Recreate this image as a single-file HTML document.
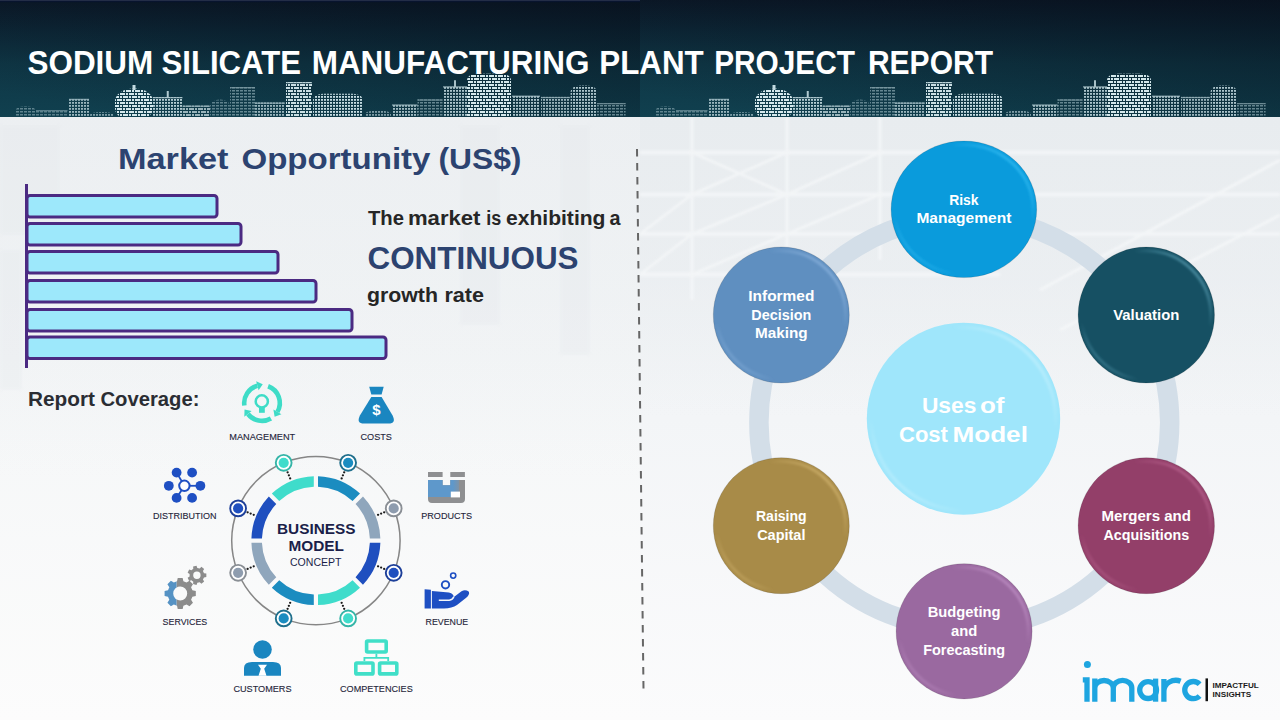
<!DOCTYPE html>
<html><head><meta charset="utf-8">
<style>
html,body{margin:0;padding:0;}
body{width:1280px;height:720px;overflow:hidden;position:relative;background:#f1f3f5;font-family:"Liberation Sans",sans-serif;}
.abs{position:absolute;}
.t{position:absolute;white-space:nowrap;line-height:1;transform-origin:0 0;}
svg text{font-family:"Liberation Sans",sans-serif;}
</style></head>
<body>
<svg class="abs" style="left:0;top:0" width="1280" height="720" viewBox="0 0 1280 720">
<defs>
  <linearGradient id="hg" x1="0" y1="0" x2="0" y2="1">
    <stop offset="0" stop-color="#0c1a2a"/>
    <stop offset="0.25" stop-color="#0d2838"/>
    <stop offset="0.55" stop-color="#0f3746"/>
    <stop offset="1" stop-color="#10404f"/>
  </linearGradient>
  <linearGradient id="bgL" x1="0" y1="0" x2="0" y2="1">
    <stop offset="0" stop-color="#f0f2f4"/>
    <stop offset="0.4" stop-color="#f4f6f7"/>
    <stop offset="1" stop-color="#fcfcfc"/>
  </linearGradient>
  <linearGradient id="bgR" x1="0" y1="0" x2="0" y2="1">
    <stop offset="0" stop-color="#edf0f2"/>
    <stop offset="0.5" stop-color="#f3f5f7"/>
    <stop offset="1" stop-color="#fbfbfc"/>
  </linearGradient>
  <pattern id="pw" x="0" y="0" width="3" height="3" patternUnits="userSpaceOnUse">
    <rect x="0" y="0" width="2" height="1.8" fill="#c6dde3"/>
  </pattern>
  <pattern id="pd" x="0" y="0" width="9" height="9" patternUnits="userSpaceOnUse">
    <rect x="0" y="0" width="5" height="2" fill="#d4e8ec"/><rect x="6" y="0" width="2" height="2" fill="#d4e8ec"/>
    <rect x="0" y="3" width="2" height="2" fill="#d4e8ec"/><rect x="3" y="3" width="5" height="2" fill="#d4e8ec"/>
    <rect x="0" y="6" width="2" height="2" fill="#d4e8ec"/><rect x="3" y="6" width="2" height="2" fill="#d4e8ec"/><rect x="6" y="6" width="3" height="2" fill="#d4e8ec"/>
  </pattern>
  <pattern id="ph" x="0" y="0" width="4" height="3" patternUnits="userSpaceOnUse">
    <rect x="0" y="0" width="3" height="1.5" fill="#9fbcc4"/>
  </pattern>
  <filter id="sh" x="-20%" y="-20%" width="140%" height="140%">
    <feGaussianBlur in="SourceAlpha" stdDeviation="1.2"/>
    <feOffset dx="0" dy="1" result="o"/>
    <feComponentTransfer><feFuncA type="linear" slope="0.35"/></feComponentTransfer>
    <feMerge><feMergeNode/><feMergeNode in="SourceGraphic"/></feMerge>
  </filter>
  <filter id="bl"><feGaussianBlur stdDeviation="1"/></filter>
  <filter id="bl2"><feGaussianBlur stdDeviation="1.5"/></filter>
</defs>
<!-- body background -->
<rect x="0" y="117" width="640" height="603" fill="url(#bgL)"/>
<rect x="640" y="117" width="640" height="603" fill="url(#bgR)"/>
<linearGradient id="tov" x1="0" y1="0" x2="0" y2="1"><stop offset="0" stop-color="#e3e8ec" stop-opacity="0.5"/><stop offset="0.5" stop-color="#e3e8ec" stop-opacity="0.4"/><stop offset="1" stop-color="#e3e8ec" stop-opacity="0"/></linearGradient>
<rect x="640" y="117" width="640" height="300" fill="url(#tov)"/>
<rect x="0" y="117" width="640" height="360" fill="url(#tov)" opacity="0.6"/>
<g fill="#e2e6ea" opacity="0.25" filter="url(#bl2)">
  <rect x="0" y="125" width="60" height="110"/>
  <rect x="0" y="250" width="22" height="140"/>
  <rect x="460" y="125" width="40" height="200"/>
  <rect x="560" y="125" width="30" height="230"/>
</g>
<g stroke="#f6f8f9" fill="none" opacity="0.75" filter="url(#bl)">
  <path d="M640,152.5 H1280 M640,194.5 H1280 M640,234 H1280 M640,274.5 H1000" stroke-width="4"/>
  <path d="M692,117 V300 M787,117 V300 M880,117 V260" stroke-width="3"/>
  <path d="M692,194.5 L787,152.5 M692,152.5 L787,194.5 M692,234 L787,194.5 M692,274.5 L787,234 M787,194.5 L880,152.5 M787,234 L880,194.5 M640,234 L692,194.5 M640,274.5 L692,234" stroke-width="2.5"/>
  <path d="M1040,290 L1280,160 M1060,330 L1280,215" stroke-width="3"/>
</g>
<!-- header -->
<rect x="0" y="0" width="1280" height="117" fill="url(#hg)"/>
<linearGradient id="hov" x1="0" y1="1" x2="1" y2="0"><stop offset="0.1" stop-color="#050b15" stop-opacity="0"/><stop offset="1" stop-color="#050b15" stop-opacity="0.5"/></linearGradient>
<rect x="0" y="0" width="640" height="117" fill="url(#hov)"/>
<rect x="640" y="0" width="640" height="117" fill="url(#hov)"/>
<rect x="0" y="0" width="640" height="1" fill="#232d47"/><rect x="0" y="1" width="640" height="1.2" fill="#08142e"/>
<clipPath id="hc"><rect x="0" y="0" width="1280" height="117"/></clipPath>
<g clip-path="url(#hc)"><g id="sky">
<g opacity="0.55"><rect x="15" y="106" width="21.0" height="15.0" rx="10.5" ry="5.5" fill="url(#ph)"/></g>
<g opacity="0.5"><rect x="36" y="110" width="31.5" height="11.0" fill="url(#ph)"/><rect x="36" y="110" width="31.5" height="1.3" fill="#c3dbe1" opacity="0.8"/></g>
<g opacity="0.75"><rect x="69" y="98.75" width="20.0" height="22.2" fill="url(#pw)"/><rect x="69" y="98.75" width="20.0" height="1.3" fill="#c3dbe1" opacity="0.8"/></g>
<g opacity="0.6"><rect x="90" y="112" width="24.0" height="9.0" rx="12.0" ry="2.5" fill="url(#pw)"/></g>
<g opacity="1.0"><rect x="115" y="88.5" width="38.0" height="32.5" rx="19.0" ry="12.7" fill="url(#pd)"/><rect x="132.5" y="85.0" width="3" height="5" fill="#c3dbe1"/></g>
<g opacity="0.9"><rect x="153" y="97" width="29.5" height="24.0" fill="url(#pw)"/><rect x="153" y="97" width="29.5" height="1.3" fill="#c3dbe1" opacity="0.8"/><rect x="166.75" y="91" width="2" height="7" fill="#c3dbe1"/></g>
<g opacity="0.7"><rect x="182.5" y="105.6" width="27.5" height="15.4" fill="url(#pd)"/><rect x="182.5" y="105.6" width="27.5" height="1.3" fill="#c3dbe1" opacity="0.8"/></g>
<g opacity="0.55"><rect x="210" y="99.4" width="20.0" height="21.6" rx="10.0" ry="6.7" fill="url(#ph)"/></g>
<g opacity="0.6"><rect x="230" y="87" width="25.0" height="34.0" fill="url(#ph)"/><rect x="230" y="87" width="25.0" height="1.3" fill="#c3dbe1" opacity="0.8"/></g>
<g opacity="0.75"><rect x="255" y="102.5" width="30.0" height="18.5" fill="url(#pw)"/><rect x="255" y="102.5" width="30.0" height="1.3" fill="#c3dbe1" opacity="0.8"/></g>
<g opacity="0.95"><rect x="286" y="82" width="26.0" height="39.0" fill="url(#pd)"/><rect x="286" y="82" width="26.0" height="1.3" fill="#c3dbe1" opacity="0.8"/></g>
<g opacity="1.0"><rect x="313" y="93.75" width="50.0" height="27.2" rx="10.0" ry="6.0" fill="url(#pw)"/></g>
<g opacity="0.6"><rect x="365" y="110.6" width="26.0" height="10.4" rx="13.0" ry="3.2" fill="url(#pw)"/></g>
<g opacity="0.8"><rect x="392" y="104.4" width="25.5" height="16.6" fill="url(#pw)"/><rect x="392" y="104.4" width="25.5" height="1.3" fill="#c3dbe1" opacity="0.8"/></g>
<g opacity="0.6"><rect x="417.5" y="99.4" width="25.0" height="21.6" fill="url(#ph)"/><rect x="417.5" y="99.4" width="25.0" height="1.3" fill="#c3dbe1" opacity="0.8"/></g>
<g opacity="0.85"><rect x="443" y="86.25" width="24.0" height="34.8" fill="url(#pw)"/><rect x="443" y="86.25" width="24.0" height="1.3" fill="#c3dbe1" opacity="0.8"/><rect x="454.0" y="80.25" width="2" height="7" fill="#c3dbe1"/></g>
<g opacity="1.0"><rect x="467" y="73.75" width="44.0" height="47.2" rx="10.0" ry="6.0" fill="url(#pd)"/></g>
<g opacity="0.85"><rect x="512" y="95.6" width="28.0" height="25.4" fill="url(#pw)"/><rect x="512" y="95.6" width="28.0" height="1.3" fill="#c3dbe1" opacity="0.8"/></g>
<g opacity="0.75"><rect x="541" y="96.9" width="29.0" height="24.1" fill="url(#pw)"/><rect x="541" y="96.9" width="29.0" height="1.3" fill="#c3dbe1" opacity="0.8"/></g>
<g opacity="0.85"><rect x="570.6" y="85.6" width="26.4" height="35.4" rx="10.0" ry="6.0" fill="url(#pw)"/></g>
<g opacity="0.6"><rect x="597" y="103" width="28.6" height="18.0" fill="url(#ph)"/><rect x="597" y="103" width="28.6" height="1.3" fill="#c3dbe1" opacity="0.8"/></g>
</g>
<use href="#sky" transform="translate(640,0)"/></g>

<!-- bars -->
<g stroke="#4b2a82" stroke-width="3" fill="#9de8fb">
  <rect x="27" y="195.5" width="190" height="21.5" rx="3"/>
  <rect x="27" y="223.5" width="214" height="21.5" rx="3"/>
  <rect x="27" y="251.5" width="251" height="21.5" rx="3"/>
  <rect x="27" y="280.5" width="289" height="21.5" rx="3"/>
  <rect x="27" y="309.5" width="325" height="21.5" rx="3"/>
  <rect x="27" y="337" width="359" height="21.5" rx="3"/>
</g>
<line x1="26.5" y1="184" x2="26.5" y2="368" stroke="#4b2a82" stroke-width="3"/>

<!-- dashed separator -->
<line x1="637" y1="149" x2="643.5" y2="689" stroke="#666" stroke-width="2" stroke-dasharray="7.5 6.5"/>

<text id="t1" x="27.47" y="74.1" font-size="33" font-weight="bold" fill="#ffffff" textLength="125.75" lengthAdjust="spacingAndGlyphs">SODIUM</text>
<text id="t2" x="161.47" y="74.1" font-size="33" font-weight="bold" fill="#ffffff" textLength="139.5" lengthAdjust="spacingAndGlyphs">SILICATE</text>
<text id="t3" x="311.71" y="74.1" font-size="33" font-weight="bold" fill="#ffffff" textLength="277.75" lengthAdjust="spacingAndGlyphs">MANUFACTURING</text>
<text id="t4" x="599.22" y="74.1" font-size="33" font-weight="bold" fill="#ffffff" textLength="104.5" lengthAdjust="spacingAndGlyphs">PLANT</text>
<text id="t5" x="714.22" y="74.1" font-size="33" font-weight="bold" fill="#ffffff" textLength="140.75" lengthAdjust="spacingAndGlyphs">PROJECT</text>
<text id="t6" x="867.96" y="74.1" font-size="33" font-weight="bold" fill="#ffffff" textLength="125.0" lengthAdjust="spacingAndGlyphs">REPORT</text>
<text id="mo1" x="117.95" y="169.4" font-size="30" font-weight="bold" fill="#2c4370" textLength="110.5" lengthAdjust="spacingAndGlyphs">Market</text>
<text id="mo2" x="241.49" y="169.4" font-size="30" font-weight="bold" fill="#2c4370" textLength="189.0" lengthAdjust="spacingAndGlyphs">Opportunity</text>
<text id="mo3" x="438.45" y="169.4" font-size="30" font-weight="bold" fill="#2c4370" textLength="83.0" lengthAdjust="spacingAndGlyphs">(US$)</text>
<text id="tm1" x="367.98" y="224.6" font-size="20" font-weight="bold" fill="#262626" textLength="36.0" lengthAdjust="spacingAndGlyphs">The</text>
<text id="tm2" x="407.97" y="224.6" font-size="20" font-weight="bold" fill="#262626" textLength="72.5" lengthAdjust="spacingAndGlyphs">market</text>
<text id="tm3" x="486.28" y="224.6" font-size="20" font-weight="bold" fill="#262626" textLength="15.0" lengthAdjust="spacingAndGlyphs">is</text>
<text id="tm4" x="505.99" y="224.6" font-size="20" font-weight="bold" fill="#262626" textLength="99.5" lengthAdjust="spacingAndGlyphs">exhibiting</text>
<text id="tm5" x="609.44" y="224.6" font-size="20" font-weight="bold" fill="#262626" textLength="11.0" lengthAdjust="spacingAndGlyphs">a</text>
<text id="ct" x="367.49" y="269" font-size="31" font-weight="bold" fill="#2c4370" textLength="211.0" lengthAdjust="spacingAndGlyphs">CONTINUOUS</text>
<text id="gr1" x="366.98" y="301.8" font-size="21" font-weight="bold" fill="#262626" textLength="71.0" lengthAdjust="spacingAndGlyphs">growth</text>
<text id="gr2" x="444.42" y="301.8" font-size="21" font-weight="bold" fill="#262626" textLength="39.5" lengthAdjust="spacingAndGlyphs">rate</text>
<text id="rc1" x="27.96" y="405.5" font-size="20" font-weight="bold" fill="#2a2d33" textLength="67.0" lengthAdjust="spacingAndGlyphs">Report</text>
<text id="rc2" x="100.47" y="405.5" font-size="20" font-weight="bold" fill="#2a2d33" textLength="99.0" lengthAdjust="spacingAndGlyphs">Coverage:</text>
<!-- business model diagram -->
<circle cx="315.9" cy="540.6" r="84.2" fill="none" stroke="#868686" stroke-width="1.5"/>
<path d="M318.00,476.13 A64.5,64.5 0 0 1 360.00,493.53 L352.57,500.96 A54,54 0 0 0 318.00,486.64 Z" fill="#1b8cc0"/><path d="M362.97,496.50 A64.5,64.5 0 0 1 380.37,538.50 L369.86,538.50 A54,54 0 0 0 355.54,503.93 Z" fill="#8fa6bc"/><path d="M380.37,542.70 A64.5,64.5 0 0 1 362.97,584.70 L355.54,577.27 A54,54 0 0 0 369.86,542.70 Z" fill="#1f4fbf"/><path d="M360.00,587.67 A64.5,64.5 0 0 1 318.00,605.07 L318.00,594.56 A54,54 0 0 0 352.57,580.24 Z" fill="#3fdccb"/><path d="M313.80,605.07 A64.5,64.5 0 0 1 271.80,587.67 L279.23,580.24 A54,54 0 0 0 313.80,594.56 Z" fill="#1b8cc0"/><path d="M268.83,584.70 A64.5,64.5 0 0 1 251.43,542.70 L261.94,542.70 A54,54 0 0 0 276.26,577.27 Z" fill="#8fa6bc"/><path d="M251.43,538.50 A64.5,64.5 0 0 1 268.83,496.50 L276.26,503.93 A54,54 0 0 0 261.94,538.50 Z" fill="#1f4fbf"/><path d="M271.80,493.53 A64.5,64.5 0 0 1 313.80,476.13 L313.80,486.64 A54,54 0 0 0 279.23,500.96 Z" fill="#3fdccb"/>
<circle cx="348.12" cy="462.81" r="7.9" fill="#fff" stroke="#1f6f8c" stroke-width="1.9"/><circle cx="348.12" cy="462.81" r="5.1" fill="#1b8cc0"/><circle cx="344.18" cy="472.33" r="1.15" fill="#1a1a1a"/><circle cx="342.92" cy="475.37" r="1.15" fill="#1a1a1a"/><circle cx="341.65" cy="478.42" r="1.15" fill="#1a1a1a"/><circle cx="393.69" cy="508.38" r="7.9" fill="#fff" stroke="#8a8f95" stroke-width="1.9"/><circle cx="393.69" cy="508.38" r="5.1" fill="#8e9cae"/><circle cx="384.17" cy="512.32" r="1.15" fill="#1a1a1a"/><circle cx="381.13" cy="513.58" r="1.15" fill="#1a1a1a"/><circle cx="378.08" cy="514.85" r="1.15" fill="#1a1a1a"/><circle cx="393.69" cy="572.82" r="7.9" fill="#fff" stroke="#1d3f99" stroke-width="1.9"/><circle cx="393.69" cy="572.82" r="5.1" fill="#1f4fbf"/><circle cx="384.17" cy="568.88" r="1.15" fill="#1a1a1a"/><circle cx="381.13" cy="567.62" r="1.15" fill="#1a1a1a"/><circle cx="378.08" cy="566.35" r="1.15" fill="#1a1a1a"/><circle cx="348.12" cy="618.39" r="7.9" fill="#fff" stroke="#35b5a8" stroke-width="1.9"/><circle cx="348.12" cy="618.39" r="5.1" fill="#3fdccb"/><circle cx="344.18" cy="608.87" r="1.15" fill="#1a1a1a"/><circle cx="342.92" cy="605.83" r="1.15" fill="#1a1a1a"/><circle cx="341.65" cy="602.78" r="1.15" fill="#1a1a1a"/><circle cx="283.68" cy="618.39" r="7.9" fill="#fff" stroke="#1f6f8c" stroke-width="1.9"/><circle cx="283.68" cy="618.39" r="5.1" fill="#1b8cc0"/><circle cx="287.62" cy="608.87" r="1.15" fill="#1a1a1a"/><circle cx="288.88" cy="605.83" r="1.15" fill="#1a1a1a"/><circle cx="290.15" cy="602.78" r="1.15" fill="#1a1a1a"/><circle cx="238.11" cy="572.82" r="7.9" fill="#fff" stroke="#8a8f95" stroke-width="1.9"/><circle cx="238.11" cy="572.82" r="5.1" fill="#8e9cae"/><circle cx="247.63" cy="568.88" r="1.15" fill="#1a1a1a"/><circle cx="250.67" cy="567.62" r="1.15" fill="#1a1a1a"/><circle cx="253.72" cy="566.35" r="1.15" fill="#1a1a1a"/><circle cx="238.11" cy="508.38" r="7.9" fill="#fff" stroke="#1d3f99" stroke-width="1.9"/><circle cx="238.11" cy="508.38" r="5.1" fill="#1f4fbf"/><circle cx="247.63" cy="512.32" r="1.15" fill="#1a1a1a"/><circle cx="250.67" cy="513.58" r="1.15" fill="#1a1a1a"/><circle cx="253.72" cy="514.85" r="1.15" fill="#1a1a1a"/><circle cx="283.68" cy="462.81" r="7.9" fill="#fff" stroke="#35b5a8" stroke-width="1.9"/><circle cx="283.68" cy="462.81" r="5.1" fill="#3fdccb"/><circle cx="287.62" cy="472.33" r="1.15" fill="#1a1a1a"/><circle cx="288.88" cy="475.37" r="1.15" fill="#1a1a1a"/><circle cx="290.15" cy="478.42" r="1.15" fill="#1a1a1a"/>
<text id="bus" x="276.97" y="533.6" font-size="15" font-weight="bold" fill="#1b1f4a" textLength="78.5" lengthAdjust="spacingAndGlyphs">BUSINESS</text>
<text id="mod" x="288.47" y="550.5" font-size="15" font-weight="bold" fill="#1b1f4a" textLength="55.5" lengthAdjust="spacingAndGlyphs">MODEL</text>
<text id="con" x="290.0" y="565.5" font-size="10.5" font-weight="normal" fill="#1b1f4a" textLength="51.5" lengthAdjust="spacingAndGlyphs">CONCEPT</text>

<!-- ring -->
<ellipse cx="964.3" cy="422.5" rx="205.4" ry="206" fill="none" stroke="#d3dee8" stroke-width="19.5"/>
<!-- center -->
<ellipse cx="963.5" cy="418.7" rx="96.7" ry="96" fill="#9fe6fb"/>
<ellipse cx="963.5" cy="418.7" rx="92" ry="91.3" fill="none" stroke="url(#bevc)" stroke-width="3.5" filter="url(#bl)"/>
<linearGradient id="bevc" x1="0" y1="1" x2="1" y2="0"><stop offset="0" stop-color="#e0f8ff" stop-opacity="0.6"/><stop offset="0.25" stop-color="#e0f8ff" stop-opacity="0"/><stop offset="0.72" stop-color="#e0f8ff" stop-opacity="0"/><stop offset="1" stop-color="#e0f8ff" stop-opacity="0.7"/></linearGradient>
<text id="us1" x="921.92" y="412.9" font-size="22.5" font-weight="bold" fill="#ffffff" textLength="54.5" lengthAdjust="spacingAndGlyphs">Uses</text>
<text id="us2" x="979.95" y="412.9" font-size="22.5" font-weight="bold" fill="#ffffff" textLength="24.5" lengthAdjust="spacingAndGlyphs">of</text>
<text id="cm1" x="898.98" y="441.6" font-size="22.5" font-weight="bold" fill="#ffffff" textLength="49.0" lengthAdjust="spacingAndGlyphs">Cost</text>
<text id="cm2" x="952.41" y="441.6" font-size="22.5" font-weight="bold" fill="#ffffff" textLength="75.5" lengthAdjust="spacingAndGlyphs">Model</text>
<ellipse cx="963.9" cy="209.3" rx="72.8" ry="68.3" fill="#0a9bdc" stroke="#000" stroke-opacity="0.12" stroke-width="1"/>
<ellipse cx="963.9" cy="209.3" rx="69.0" ry="64.5" fill="none" stroke="url(#bev0)" stroke-width="3.2" filter="url(#bl)"/>
<linearGradient id="bev0" x1="0" y1="1" x2="1" y2="0"><stop offset="0.02" stop-color="#39c0f5" stop-opacity="0.9"/><stop offset="0.22" stop-color="#39c0f5" stop-opacity="0"/><stop offset="0.7" stop-color="#39c0f5" stop-opacity="0"/><stop offset="0.95" stop-color="#39c0f5" stop-opacity="0.95"/></linearGradient><ellipse cx="1146.3" cy="315" rx="68.2" ry="68" fill="#165063" stroke="#000" stroke-opacity="0.12" stroke-width="1"/>
<ellipse cx="1146.3" cy="315" rx="64.4" ry="64.2" fill="none" stroke="url(#bev1)" stroke-width="3.2" filter="url(#bl)"/>
<linearGradient id="bev1" x1="0" y1="1" x2="1" y2="0"><stop offset="0.02" stop-color="#5fa5ba" stop-opacity="0.9"/><stop offset="0.22" stop-color="#5fa5ba" stop-opacity="0"/><stop offset="0.7" stop-color="#5fa5ba" stop-opacity="0"/><stop offset="0.95" stop-color="#5fa5ba" stop-opacity="0.95"/></linearGradient><ellipse cx="781.3" cy="315" rx="68" ry="68" fill="#5f8fc0" stroke="#000" stroke-opacity="0.12" stroke-width="1"/>
<ellipse cx="781.3" cy="315" rx="64.2" ry="64.2" fill="none" stroke="url(#bev2)" stroke-width="3.2" filter="url(#bl)"/>
<linearGradient id="bev2" x1="0" y1="1" x2="1" y2="0"><stop offset="0.02" stop-color="#8fb6e0" stop-opacity="0.9"/><stop offset="0.22" stop-color="#8fb6e0" stop-opacity="0"/><stop offset="0.7" stop-color="#8fb6e0" stop-opacity="0"/><stop offset="0.95" stop-color="#8fb6e0" stop-opacity="0.95"/></linearGradient><ellipse cx="781.3" cy="525.7" rx="68" ry="68" fill="#a88b48" stroke="#000" stroke-opacity="0.12" stroke-width="1"/>
<ellipse cx="781.3" cy="525.7" rx="64.2" ry="64.2" fill="none" stroke="url(#bev3)" stroke-width="3.2" filter="url(#bl)"/>
<linearGradient id="bev3" x1="0" y1="1" x2="1" y2="0"><stop offset="0.02" stop-color="#d6b872" stop-opacity="0.9"/><stop offset="0.22" stop-color="#d6b872" stop-opacity="0"/><stop offset="0.7" stop-color="#d6b872" stop-opacity="0"/><stop offset="0.95" stop-color="#d6b872" stop-opacity="0.95"/></linearGradient><ellipse cx="964.1" cy="631.3" rx="68" ry="67.6" fill="#9a69a0" stroke="#000" stroke-opacity="0.12" stroke-width="1"/>
<ellipse cx="964.1" cy="631.3" rx="64.2" ry="63.8" fill="none" stroke="url(#bev4)" stroke-width="3.2" filter="url(#bl)"/>
<linearGradient id="bev4" x1="0" y1="1" x2="1" y2="0"><stop offset="0.02" stop-color="#c596cb" stop-opacity="0.9"/><stop offset="0.22" stop-color="#c596cb" stop-opacity="0"/><stop offset="0.7" stop-color="#c596cb" stop-opacity="0"/><stop offset="0.95" stop-color="#c596cb" stop-opacity="0.95"/></linearGradient><ellipse cx="1146.3" cy="525.7" rx="68.2" ry="68" fill="#933f69" stroke="#000" stroke-opacity="0.12" stroke-width="1"/>
<ellipse cx="1146.3" cy="525.7" rx="64.4" ry="64.2" fill="none" stroke="url(#bev5)" stroke-width="3.2" filter="url(#bl)"/>
<linearGradient id="bev5" x1="0" y1="1" x2="1" y2="0"><stop offset="0.02" stop-color="#c06a96" stop-opacity="0.9"/><stop offset="0.22" stop-color="#c06a96" stop-opacity="0"/><stop offset="0.7" stop-color="#c06a96" stop-opacity="0"/><stop offset="0.95" stop-color="#c06a96" stop-opacity="0.95"/></linearGradient>
<g font-weight="bold" font-size="14.5" fill="#ffffff">
<text x="963.9" y="204.5" text-anchor="middle" textLength="29.4" lengthAdjust="spacingAndGlyphs">Risk</text><text x="963.9" y="223.3" text-anchor="middle" textLength="94.9" lengthAdjust="spacingAndGlyphs">Management</text><text x="1146.3" y="319.6" text-anchor="middle" textLength="66.1" lengthAdjust="spacingAndGlyphs">Valuation</text><text x="781.3" y="300.8" text-anchor="middle" textLength="66.1" lengthAdjust="spacingAndGlyphs">Informed</text><text x="781.3" y="319.6" text-anchor="middle" textLength="60.0" lengthAdjust="spacingAndGlyphs">Decision</text><text x="781.3" y="338.4" text-anchor="middle" textLength="52.7" lengthAdjust="spacingAndGlyphs">Making</text><text x="781.3" y="520.9" text-anchor="middle" textLength="50.7" lengthAdjust="spacingAndGlyphs">Raising</text><text x="781.3" y="539.7" text-anchor="middle" textLength="48.3" lengthAdjust="spacingAndGlyphs">Capital</text><text x="964.1" y="617.1" text-anchor="middle" textLength="72.8" lengthAdjust="spacingAndGlyphs">Budgeting</text><text x="964.1" y="635.9" text-anchor="middle" textLength="26.3" lengthAdjust="spacingAndGlyphs">and</text><text x="964.1" y="654.7" text-anchor="middle" textLength="81.9" lengthAdjust="spacingAndGlyphs">Forecasting</text><text x="1146.3" y="520.9" text-anchor="middle" textLength="89.4" lengthAdjust="spacingAndGlyphs">Mergers and</text><text x="1146.3" y="539.7" text-anchor="middle" textLength="85.7" lengthAdjust="spacingAndGlyphs">Acquisitions</text>
</g>

<!-- imarc logo -->
<g fill="none" stroke="#1ea5e0" stroke-width="5.3">
<path d="M1087,701.7 V679.8 H1082.8"/>
<path d="M1094.8,701.7 V678.5 M1094.8,688 A9.25,7.5 0 0 1 1113.3,688 V701.7 M1113.3,688 A9.2,7.5 0 0 1 1131.8,688 V701.7"/>
<circle cx="1148.1" cy="690.1" r="8.4"/>
<path d="M1155.6,678.6 V701.7"/>
<path d="M1163.9,701.7 V679 M1163.9,691 A12,11 0 0 1 1180.6,681.2"/>
<path d="M1199.6,684.2 A8.6,8.6 0 1 0 1199.6,696"/>
</g>
<circle cx="1087.4" cy="664.4" r="3.5" fill="#1ea5e0"/>
<rect x="1205.5" y="678.4" width="2.5" height="22.8" fill="#111"/>
<g font-weight="bold" fill="#1a1a1a" font-size="8">
<text x="1212.6" y="687.6" textLength="46.2" lengthAdjust="spacingAndGlyphs">IMPACTFUL</text>
<text x="1212.6" y="697.2" textLength="38.6" lengthAdjust="spacingAndGlyphs">INSIGHTS</text>
</g>
<path d="M244.37,405.48 A17.8,17.8 0 0 1 257.39,385.81" fill="none" stroke="#3edcc7" stroke-width="4.6"/>
<path d="M262.78,384.36 L256.19,381.31 L258.60,390.30 Z" fill="#3edcc7"/>
<path d="M268.09,386.27 A17.8,17.8 0 0 1 277.42,411.90" fill="none" stroke="#3edcc7" stroke-width="4.6"/>
<path d="M274.63,416.73 L281.44,414.22 L273.39,409.57 Z" fill="#3edcc7"/>
<path d="M270.90,418.42 A17.8,17.8 0 0 1 247.97,413.96" fill="none" stroke="#3edcc7" stroke-width="4.6"/>
<path d="M244.54,409.56 L244.31,416.82 L251.64,411.10 Z" fill="#3edcc7"/>
<circle cx="261.8" cy="401.4" r="6.1" fill="none" stroke="#3edcc7" stroke-width="2.5"/>
<rect x="259" y="406.8" width="5.8" height="6" fill="#3edcc7"/>
<path d="M369.2,386.7 L383.7,386.7 L381.6,394.4 L371.3,394.4 Z" fill="#1a86c0"/>
<path d="M371.3,396.9 L381.6,396.9 L392.6,415.5 Q396.5,423.6 388.5,423.6 L364,423.6 Q356,423.6 359.9,415.5 Z" fill="#1a86c0"/>
<text x="376.3" y="414.6" text-anchor="middle" font-weight="bold" font-size="15" fill="#ffffff">$</text>
<rect x="428" y="472" width="14.6" height="5" fill="#8e8f91"/>
<rect x="450.3" y="472" width="14.6" height="5" fill="#8e8f91"/>
<defs><linearGradient id="pg" x1="0" y1="0" x2="1" y2="0"><stop offset="0.8" stop-color="#5e98cb"/><stop offset="1" stop-color="#7d93a8"/></linearGradient></defs>
<path d="M428,480 L442.6,480 L442.6,485.3 L450.3,485.3 L450.3,480 L465,480 L465,499 Q465,503 461,503 L432,503 Q428,503 428,499 Z" fill="#8e8f91"/>
<path d="M428,480 L442.6,480 L442.6,485.3 L450.3,485.3 L450.3,480 L459,480 L459,497 L428,497 Z" fill="url(#pg)"/>
<rect x="450.8" y="491.6" width="9.2" height="5.8" fill="#ffffff"/>
<line x1="184.4" y1="485.8" x2="176.6" y2="472.6" stroke="#1e4fc3" stroke-width="1.8"/>
<circle cx="176.6" cy="472.6" r="4.9" fill="#1e4fc3"/>
<circle cx="192.1" cy="472.6" r="4.9" fill="#1e4fc3"/>
<circle cx="168.8" cy="485.8" r="4.9" fill="#1e4fc3"/>
<line x1="184.4" y1="485.8" x2="200.4" y2="485.8" stroke="#1e4fc3" stroke-width="1.8"/>
<circle cx="200.4" cy="485.8" r="4.9" fill="#1e4fc3"/>
<line x1="184.4" y1="485.8" x2="176.6" y2="497.9" stroke="#1e4fc3" stroke-width="1.8"/>
<circle cx="176.6" cy="497.9" r="4.9" fill="#1e4fc3"/>
<circle cx="192.1" cy="497.9" r="4.9" fill="#1e4fc3"/>
<circle cx="184.4" cy="485.8" r="5.2" fill="#ffffff" stroke="#1e4fc3" stroke-width="2"/>
<defs><clipPath id="gl"><rect x="150" y="570" width="26.5" height="40"/></clipPath><clipPath id="gr"><rect x="176.5" y="570" width="40" height="40"/></clipPath></defs>
<path d="M192.39,590.31 L195.81,591.04 L195.81,595.96 L192.39,596.69 L191.08,599.86 L192.98,602.80 L189.50,606.28 L186.56,604.38 L183.39,605.69 L182.66,609.11 L177.74,609.11 L177.01,605.69 L173.84,604.38 L170.90,606.28 L167.42,602.80 L169.32,599.86 L168.01,596.69 L164.59,595.96 L164.59,591.04 L168.01,590.31 L169.32,587.14 L167.42,584.20 L170.90,580.72 L173.84,582.62 L177.01,581.31 L177.74,577.89 L182.66,577.89 L183.39,581.31 L186.56,582.62 L189.50,580.72 L192.98,584.20 L191.08,587.14 Z M187.20,593.50 A7.0,7.0 0 1 0 173.20,593.50 A7.0,7.0 0 1 0 187.20,593.50 Z" fill="#8c8c8c" fill-rule="evenodd" clip-path="url(#gr)"/>
<path d="M192.39,590.31 L195.81,591.04 L195.81,595.96 L192.39,596.69 L191.08,599.86 L192.98,602.80 L189.50,606.28 L186.56,604.38 L183.39,605.69 L182.66,609.11 L177.74,609.11 L177.01,605.69 L173.84,604.38 L170.90,606.28 L167.42,602.80 L169.32,599.86 L168.01,596.69 L164.59,595.96 L164.59,591.04 L168.01,590.31 L169.32,587.14 L167.42,584.20 L170.90,580.72 L173.84,582.62 L177.01,581.31 L177.74,577.89 L182.66,577.89 L183.39,581.31 L186.56,582.62 L189.50,580.72 L192.98,584.20 L191.08,587.14 Z M187.20,593.50 A7.0,7.0 0 1 0 173.20,593.50 A7.0,7.0 0 1 0 187.20,593.50 Z" fill="#5592c4" fill-rule="evenodd" clip-path="url(#gl)"/>
<path d="M204.00,573.22 L206.34,573.54 L206.34,577.06 L204.00,577.38 L202.95,579.56 L204.16,581.58 L201.41,583.78 L199.71,582.15 L197.34,582.69 L196.52,584.89 L193.08,584.11 L193.30,581.76 L191.40,580.25 L189.16,580.98 L187.63,577.81 L189.60,576.51 L189.60,574.09 L187.63,572.79 L189.16,569.62 L191.40,570.35 L193.30,568.84 L193.08,566.49 L196.52,565.71 L197.34,567.91 L199.71,568.45 L201.41,566.82 L204.16,569.02 L202.95,571.04 Z M200.60,575.30 A3.7,3.7 0 1 0 193.20,575.30 A3.7,3.7 0 1 0 200.60,575.30 Z" fill="#8c8c8c" fill-rule="evenodd"/>
<path d="M424.6,589.2 L430.9,589.8 L430.9,608.6 L424.6,608.6 Z" fill="#1e4fc3"/>
<path d="M431.9,591.1 L448.9,592.4 Q454.2,593.8 453.6,597.2 L461.5,591.2 Q465.5,589.2 468.9,591.8 Q470,594.5 466.2,597.8 L457,605 Q452,608.4 444,608.6 L431.9,608.6 Z" fill="#1e4fc3"/>
<path d="M438.8,600.2 L449.2,600.2 Q452.8,599.8 453.8,596.8" fill="none" stroke="#f4f6f9" stroke-width="1.5"/>
<circle cx="445.5" cy="584.8" r="3.7" fill="none" stroke="#1e4fc3" stroke-width="1.9"/>
<circle cx="453.2" cy="575.6" r="2.6" fill="none" stroke="#1e4fc3" stroke-width="1.6"/>
<circle cx="262.5" cy="649.5" r="9.3" fill="#1a86c0"/>
<path d="M244,675.7 L244,668 Q244,662 252,662 L273,662 Q281,662 281,668 L281,675.7 Z" fill="#1a86c0"/>
<path d="M258,664.8 L267,664.8 L264.2,668.8 L266.5,675.7 L258.5,675.7 L260.8,668.8 Z" fill="#ffffff"/>
<rect x="366.6" y="641" width="19.6" height="11" fill="none" stroke="#40dfc8" stroke-width="3.6" rx="1"/>
<rect x="355.8" y="663" width="17.2" height="10.9" fill="none" stroke="#40dfc8" stroke-width="3.6" rx="1"/>
<rect x="379.6" y="663" width="17.2" height="10.9" fill="none" stroke="#40dfc8" stroke-width="3.6" rx="1"/>
<path d="M376.4,653.8 L376.4,657.9 M364.4,661.1 L364.4,657.9 L388.2,657.9 L388.2,661.1" fill="none" stroke="#40dfc8" stroke-width="1.8"/>
<text x="229.3" y="439.6" font-size="9" fill="#1f1f3a" stroke="#1f1f3a" stroke-width="0.12" textLength="65.9" lengthAdjust="spacingAndGlyphs">MANAGEMENT</text>
<text x="360.5" y="439.6" font-size="9" fill="#1f1f3a" stroke="#1f1f3a" stroke-width="0.12" textLength="31.4" lengthAdjust="spacingAndGlyphs">COSTS</text>
<text x="152.9" y="518.8" font-size="9" fill="#1f1f3a" stroke="#1f1f3a" stroke-width="0.12" textLength="63.5" lengthAdjust="spacingAndGlyphs">DISTRIBUTION</text>
<text x="421.3" y="518.8" font-size="9" fill="#1f1f3a" stroke="#1f1f3a" stroke-width="0.12" textLength="50.8" lengthAdjust="spacingAndGlyphs">PRODUCTS</text>
<text x="162.6" y="624.6" font-size="9" fill="#1f1f3a" stroke="#1f1f3a" stroke-width="0.12" textLength="44.6" lengthAdjust="spacingAndGlyphs">SERVICES</text>
<text x="425.6" y="624.6" font-size="9" fill="#1f1f3a" stroke="#1f1f3a" stroke-width="0.12" textLength="42.6" lengthAdjust="spacingAndGlyphs">REVENUE</text>
<text x="233.4" y="691.8" font-size="9" fill="#1f1f3a" stroke="#1f1f3a" stroke-width="0.12" textLength="58.1" lengthAdjust="spacingAndGlyphs">CUSTOMERS</text>
<text x="340.0" y="691.8" font-size="9" fill="#1f1f3a" stroke="#1f1f3a" stroke-width="0.12" textLength="72.7" lengthAdjust="spacingAndGlyphs">COMPETENCIES</text>
</svg>

</body></html>
